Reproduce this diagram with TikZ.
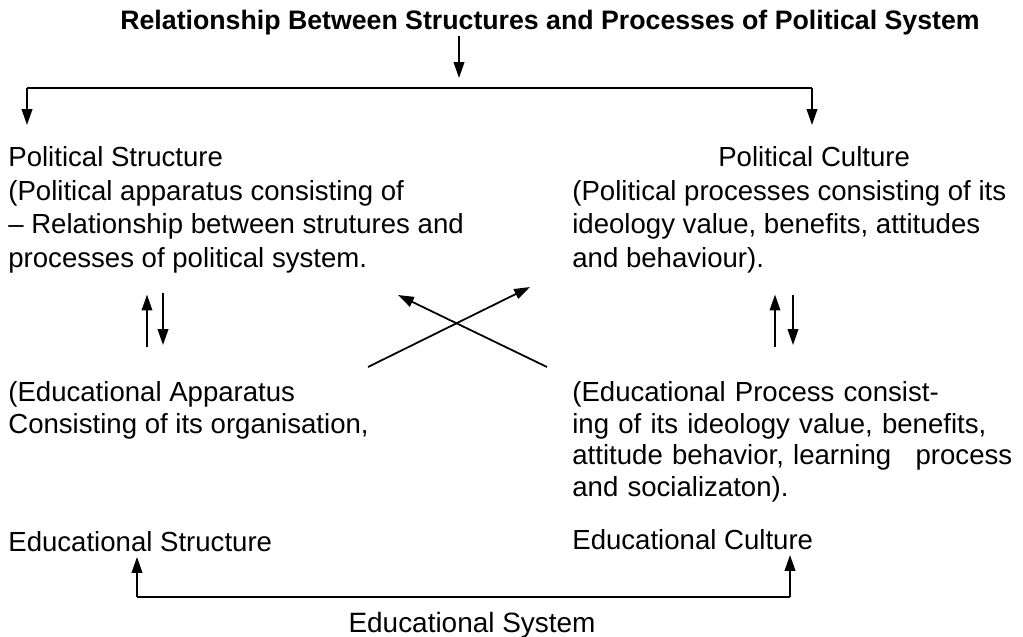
\documentclass[tikz,border=0pt]{standalone}
\usepackage{fontspec}
\setmainfont{Liberation Sans}
\usetikzlibrary{arrows.meta}
\begin{document}
\begin{tikzpicture}[x=0.02cm,y=-0.02cm,
  txt/.style={anchor=north west,inner sep=0pt,align=left,font=\fontsize{15.7}{19.2}\selectfont},
  lowtxt/.style={txt,font=\fontsize{15.7}{18.1}\selectfont},
  arr/.style={line width=1pt,-{Triangle[length=9pt,width=6pt]}}]
\useasboundingbox (0,0) rectangle (1023,636);
% heading
\node[inner sep=0pt,font=\bfseries\fontsize{15.2}{18}\selectfont] (title) at (550,23) {Relationship Between Structures and Processes of Political System};
% upper blocks
\node[txt] (polstr) at (8,146) {Political Structure\\
(Political apparatus consisting of\\
-- Relationship between strutures and\\
processes of political system.};
\node[txt] (polcult) at (572,146) {\hspace*{2.92cm}Political Culture\\
(Political processes consisting of its\\
ideology value, benefits, attitudes\\
and behaviour).};
% lower blocks
\node[lowtxt] (eduapp) at (8,381) {(Educational Apparatus\\
Consisting of its organisation,};
\node[lowtxt,text width=8.8cm] (eduproc) at (572,381) {(Educational Process consist-\\
ing of its ideology value, benefits,\\
attitude behavior, learning\hfill process\\
and socializaton).};
\node[txt] (edustr) at (8,531) {Educational Structure};
\node[txt] (educult) at (572,529) {Educational Culture};
\node[inner sep=0pt,anchor=base,font=\fontsize{15.9}{18}\selectfont] (edusys) at (472,632) {Educational System};
% split from the heading
\coordinate (split) at (459,88);
\coordinate (spl) at (27,88);
\coordinate (spr) at (812,88);
\draw[arr,shorten >=0.2cm] (split |- title.south) -- (split);
\draw[line width=1pt] (spl) -- (spr);
\draw[arr,shorten >=0.42cm] (spl) -- (spl |- polstr.north);
\draw[arr,shorten >=0.42cm] (spr) -- (spr |- polcult.north);
% up and down pairs
\coordinate (lup) at (147,0);
\coordinate (ldn) at (163,0);
\coordinate (rup) at (775,0);
\coordinate (rdn) at (793,0);
\draw[arr,shorten <=0.68cm,shorten >=0.42cm] (lup |- eduapp.north) -- (lup |- polstr.south);
\draw[arr,shorten <=0.38cm,shorten >=0.72cm] (ldn |- polstr.south) -- (ldn |- eduapp.north);
\draw[arr,shorten <=0.68cm,shorten >=0.42cm] (rup |- eduproc.north) -- (rup |- polcult.south);
\draw[arr,shorten <=0.42cm,shorten >=0.72cm] (rdn |- polcult.south) -- (rdn |- eduproc.north);
% cross
\coordinate (xa1) at (368,367);
\coordinate (xa2) at (530,287);
\coordinate (xb1) at (547,367);
\coordinate (xb2) at (398,295);
\draw[arr] (xa1) -- (xa2);
\draw[arr] (xb1) -- (xb2);
% bottom join
\coordinate (bl) at (137,597);
\coordinate (br) at (790,597);
\draw[arr,shorten >=0.1cm] (bl) -- (bl |- edustr.south);
\draw[arr,shorten >=0.1cm] (br) -- (br |- educult.south);
\draw[line width=1pt] (bl) -- (br);
\end{tikzpicture}
\end{document}
